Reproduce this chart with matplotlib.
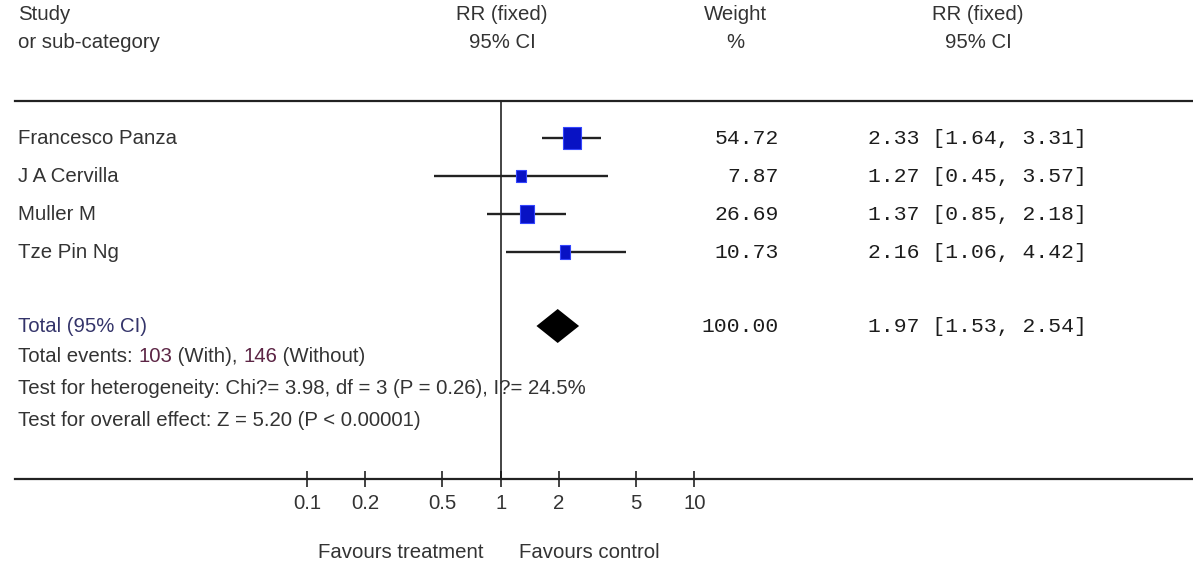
#!/usr/bin/env python3
"""Forest plot: fixed-effect risk ratios with 95% CI, RevMan style."""

import numpy as np
import matplotlib
matplotlib.use("Agg")
import matplotlib.pyplot as plt
import matplotlib.ticker as ticker
import matplotlib.transforms as mtransforms
from matplotlib import font_manager
from matplotlib.path import Path

# ── Data ───────────────────────────────────────────────────────────────────────

studies  = ["Francesco Panza", "J A Cervilla", "Muller M", "Tze Pin Ng"]
rr       = [2.33, 1.27, 1.37, 2.16]
ci_low   = [1.64, 0.45, 0.85, 1.06]
ci_high  = [3.31, 3.57, 2.18, 4.42]
weights  = [54.72, 7.87, 26.69, 10.73]

total_rr, total_low, total_high = 1.97, 1.53, 2.54
total_weight = 100.00
events_with, events_without = 103, 146
het_text    = "Test for heterogeneity: Chi?= 3.98, df = 3 (P = 0.26), I?= 24.5%"
effect_text = "Test for overall effect: Z = 5.20 (P < 0.00001)"

tick_values = [0.1, 0.2, 0.5, 1, 2, 5, 10]
tick_labels = ["0.1", "0.2", "0.5", "1", "2", "5", "10"]

# ── Layout (pixels) ────────────────────────────────────────────────────────────

W, H = 1193, 566
LEFT_PX = 15
TOP_LINE, BOTTOM_LINE = 101, 479
ONE_PX, DECADE_PX = 500.7, 193.6      # where RR=1 sits, width of one decade
ROW0, ROW_STEP = 138, 38
TOTAL_Y = 326

TEXT = "#333333"
MONO_COLOR = "#1c1c1c"

names = {f.name for f in font_manager.fontManager.ttflist}
if "Liberation Sans Narrow" in names:
    SANS, FS = "Liberation Sans Narrow", 17.8
else:
    SANS, FS = "Liberation Sans", 14.7
MONO, MFS = "Liberation Mono", 15.4

def px(x):
    return x / W

# ── Figure ─────────────────────────────────────────────────────────────────────

fig = plt.figure(figsize=(W / 100, H / 100), dpi=100)
ax = fig.add_axes([LEFT_PX / W, (H - BOTTOM_LINE) / H,
                   (W - LEFT_PX) / W, (BOTTOM_LINE - TOP_LINE) / H])
ax.set_xscale("log")
ax.set_xlim(10 ** ((LEFT_PX - ONE_PX) / DECADE_PX), 10 ** ((W - ONE_PX) / DECADE_PX))
ax.set_ylim(BOTTOM_LINE, TOP_LINE)

for side in ("left", "right"):
    ax.spines[side].set_visible(False)
for side in ("top", "bottom"):
    ax.spines[side].set_linewidth(1.6)
    ax.spines[side].set_color("#222222")
ax.yaxis.set_visible(False)
ax.xaxis.set_major_locator(ticker.FixedLocator(tick_values))
ax.xaxis.set_major_formatter(ticker.FixedFormatter(tick_labels))
ax.xaxis.set_minor_locator(ticker.NullLocator())
ax.tick_params(axis="x", direction="inout", length=11, width=1.2, color="#222222",
               pad=5, labelsize=FS, labelcolor=TEXT)
for lab in ax.get_xticklabels():
    lab.set_family(SANS)

ax.axvline(1, color="#111111", lw=1.1)

# column text uses figure-fraction x and pixel-row y
col = mtransforms.blended_transform_factory(fig.transFigure, ax.transData)

def put(x, y, s, ha="left", family=None, size=None, color=TEXT):
    return ax.text(px(x), y, s, transform=col, ha=ha, va="center",
                   family=family or SANS, fontsize=size or FS, color=color)

# ── Headers ────────────────────────────────────────────────────────────────────

put(18, 15, "Study")
put(18, 42, "or sub-category")
put(502, 15, "RR (fixed)", ha="center")
put(502, 42, "95% CI", ha="center")
put(735, 15, "Weight", ha="center")
put(735, 42, "%", ha="center")
put(978, 15, "RR (fixed)", ha="center")
put(978, 42, "95% CI", ha="center")

# ── Study rows ─────────────────────────────────────────────────────────────────

box = Path([(-0.37, -0.5), (0.37, -0.5), (0.37, 0.5), (-0.37, 0.5), (-0.37, -0.5)],
           closed=True)
y_rows = ROW0 + ROW_STEP * np.arange(len(studies))

for name, est, lo, hi, w, y in zip(studies, rr, ci_low, ci_high, weights, y_rows):
    ax.hlines(y, lo, hi, color="#222222", lw=1.7)
    side_px = 4.6 + 1.68 * np.sqrt(w)
    ax.plot(est, y, marker=box, ms=1.35 * side_px * 0.72, mfc="#0812c4",
            mec="#3446ff", mew=0.8, ls="none")
    put(18, y, name)
    put(779, y, f"{w:.2f}", ha="right", family=MONO, size=MFS, color=MONO_COLOR)
    put(868, y, f"{est:.2f} [{lo:.2f}, {hi:.2f}]", family=MONO, size=MFS, color=MONO_COLOR)

# ── Pooled estimate ────────────────────────────────────────────────────────────

ax.fill([total_low, total_rr, total_high, total_rr],
        [TOTAL_Y, TOTAL_Y - 17, TOTAL_Y, TOTAL_Y + 17], color="black", lw=0)
put(18, TOTAL_Y, "Total (95% CI)", color="#34346a")
put(779, TOTAL_Y, f"{total_weight:.2f}", ha="right", family=MONO, size=MFS, color=MONO_COLOR)
put(868, TOTAL_Y, f"{total_rr:.2f} [{total_low:.2f}, {total_high:.2f}]",
    family=MONO, size=MFS, color=MONO_COLOR)

# total events line, counts in a different colour
pieces = [("Total events: ", TEXT), (f"{events_with}", "#5c2545"), (" (With), ", TEXT),
          (f"{events_without}", "#5c2545"), (" (Without)", TEXT)]
prev = put(18, 356, pieces[0][0])
for s, c in pieces[1:]:
    prev = ax.annotate(s, xy=(1, 0), xycoords=prev, ha="left", va="bottom",
                       family=SANS, fontsize=FS, color=c)

put(18, 388, het_text)
put(18, 420, effect_text)

# ── Favours labels ─────────────────────────────────────────────────────────────

put(483, 552, "Favours treatment", ha="right")
put(519, 552, "Favours control")

fig.savefig("out.png", dpi=100)
